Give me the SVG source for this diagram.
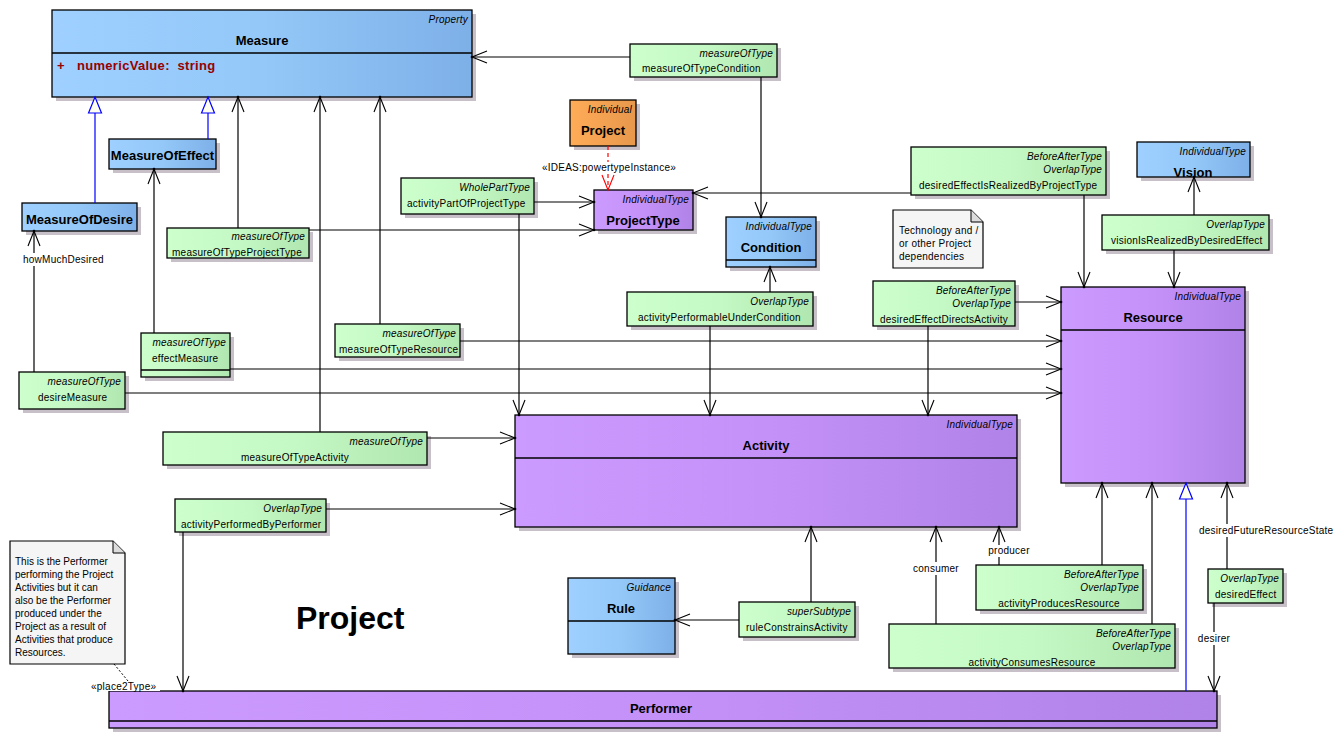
<svg xmlns="http://www.w3.org/2000/svg" width="1337" height="739" viewBox="0 0 1337 739">
<style>
text{font-family:"Liberation Sans",Arial,sans-serif;fill:#000}
.st{font-size:10px;font-style:italic;text-anchor:end;letter-spacing:0.2px}
.nm{font-size:13px;font-weight:bold;text-anchor:middle}
.tx{font-size:10px;letter-spacing:0.25px}
.tc{font-size:10px;text-anchor:middle;letter-spacing:0.25px}
.nt{font-size:10px}
.at{font-size:13px;font-weight:bold;fill:#990000}
.box{stroke:#000;stroke-width:1.3}
.sh{fill:#c8c0c8}
.dv{stroke:#000;stroke-width:1.3}
.ln{stroke:#000;stroke-width:1.2;fill:none;marker-end:url(#arr)}
.gen{stroke:#0000ff;stroke-width:1.2;fill:none;marker-end:url(#tri)}
.note{fill:#f5f5f5;stroke:#000;stroke-width:1.2}
.lbg{fill:#fff}
</style>
<defs>
<linearGradient id="gB" x1="0" x2="1" y1="0" y2="0"><stop offset="0" stop-color="#9fd0ff"/><stop offset="0.5" stop-color="#93c8f8"/><stop offset="1" stop-color="#7eb0e8"/></linearGradient>
<linearGradient id="gG" x1="0" x2="1" y1="0" y2="0"><stop offset="0" stop-color="#ccffcc"/><stop offset="0.5" stop-color="#c4f8c4"/><stop offset="1" stop-color="#b0e6b0"/></linearGradient>
<linearGradient id="gP" x1="0" x2="1" y1="0" y2="0"><stop offset="0" stop-color="#cc9bff"/><stop offset="0.5" stop-color="#c491f8"/><stop offset="1" stop-color="#b083e8"/></linearGradient>
<linearGradient id="gO" x1="0" x2="1" y1="0" y2="0"><stop offset="0" stop-color="#ffac58"/><stop offset="1" stop-color="#e8984c"/></linearGradient>
<marker id="arr" markerUnits="userSpaceOnUse" markerWidth="20" markerHeight="16" viewBox="-17 -8 20 16" refX="0" refY="0" orient="auto" overflow="visible">
<path d="M-15,-6 L0,0 L-15,6" fill="none" stroke="#000" stroke-width="1.1"/><circle cx="0" cy="0" r="1.3" fill="#000"/>
</marker>
<marker id="arrR" markerUnits="userSpaceOnUse" markerWidth="20" markerHeight="16" viewBox="-17 -8 20 16" refX="0" refY="0" orient="auto" overflow="visible">
<path d="M-15,-6 L0,0 L-15,6" fill="none" stroke="#ff0000" stroke-width="1.1"/>
</marker>
<marker id="tri" markerUnits="userSpaceOnUse" markerWidth="20" markerHeight="16" viewBox="-17 -8 20 16" refX="0" refY="0" orient="auto" overflow="visible">
<path d="M-16,-6.5 L0,0 L-16,6.5 Z" fill="#fffff0" stroke="#0000ff" stroke-width="1.2"/>
</marker>
</defs>
<rect width="1337" height="739" fill="#fff"/>

<g id="Measure">
<rect class="sh" x="56" y="14" width="420" height="87"/>
<rect class="box" x="52" y="10" width="420" height="87" fill="url(#gB)"/>
<line class="dv" x1="52" y1="53" x2="472" y2="53"/>
<text class="st" x="468" y="23">Property</text>
<text class="nm" x="262" y="45">Measure</text>
<text class="at" x="57" y="70">+</text>
<text class="at" x="77" y="70" style="letter-spacing:0.3px;white-space:pre" xml:space="preserve">numericValue:  string</text>
</g>

<g id="MeasureOfEffect">
<rect class="sh" x="113" y="143" width="107" height="30"/>
<rect class="box" x="109" y="139" width="107" height="30" fill="url(#gB)"/>
<text class="nm" x="162.5" y="160">MeasureOfEffect</text>
</g>

<g id="MeasureOfDesire">
<rect class="sh" x="26" y="207" width="115" height="28"/>
<rect class="box" x="22" y="203" width="115" height="28" fill="url(#gB)"/>
<text class="nm" x="79.5" y="224">MeasureOfDesire</text>
</g>

<g id="measureOfTypeProjectType">
<rect class="sh" x="171" y="232" width="142" height="30"/>
<rect class="box" x="167" y="228" width="142" height="30" fill="url(#gG)"/>
<text class="st" x="305" y="240">measureOfType</text>
<text class="tx" x="172" y="256">measureOfTypeProjectType</text>
</g>

<g id="activityPartOfProjectType">
<rect class="sh" x="405" y="182" width="133" height="36"/>
<rect class="box" x="401" y="178" width="133" height="36" fill="url(#gG)"/>
<text class="st" x="530" y="191">WholePartType</text>
<text class="tx" x="407" y="207">activityPartOfProjectType</text>
</g>

<g id="measureOfTypeCondition">
<rect class="sh" x="634" y="48" width="147" height="33"/>
<rect class="box" x="630" y="44" width="147" height="33" fill="url(#gG)"/>
<text class="st" x="773" y="57">measureOfType</text>
<text class="tx" x="642" y="72">measureOfTypeCondition</text>
</g>

<g id="Project">
<rect class="sh" x="574" y="104" width="66" height="46"/>
<rect class="box" x="570" y="100" width="66" height="46" fill="url(#gO)"/>
<text class="st" x="632" y="113">Individual</text>
<text class="nm" x="603" y="135">Project</text>
</g>

<g id="ProjectType">
<rect class="sh" x="598" y="194" width="99" height="40"/>
<rect class="box" x="594" y="190" width="99" height="40" fill="url(#gP)"/>
<text class="st" x="689" y="203">IndividualType</text>
<text class="nm" x="643" y="225">ProjectType</text>
</g>

<g id="Condition">
<rect class="sh" x="730" y="221" width="90" height="50"/>
<rect class="box" x="726" y="217" width="90" height="50" fill="url(#gB)"/>
<line class="dv" x1="726" y1="260" x2="816" y2="260"/>
<text class="st" x="812" y="230">IndividualType</text>
<text class="nm" x="771" y="252">Condition</text>
</g>

<g id="activityPerformableUnderCondition">
<rect class="sh" x="631" y="296" width="186" height="34"/>
<rect class="box" x="627" y="292" width="186" height="34" fill="url(#gG)"/>
<text class="st" x="809" y="305">OverlapType</text>
<text class="tx" x="638" y="321">activityPerformableUnderCondition</text>
</g>

<g id="desiredEffectIsRealizedByProjectType">
<rect class="sh" x="915" y="151" width="195" height="48"/>
<rect class="box" x="911" y="147" width="195" height="48" fill="url(#gG)"/>
<text class="st" x="1102" y="160">BeforeAfterType</text>
<text class="st" x="1102" y="173">OverlapType</text>
<text class="tx" x="919" y="189">desiredEffectIsRealizedByProjectType</text>
</g>

<g id="noteTechnology">
<path class="note" d="M893,210 L971,210 L983,222 L983,268 L893,268 Z"/>
<path d="M971,210 L971,222 L983,222" fill="#dcdcdc" stroke="#000" stroke-width="1"/>
<text class="tx" x="899" y="234">Technology and /</text>
<text class="tx" x="899" y="247">or other Project</text>
<text class="tx" x="899" y="260">dependencies</text>
</g>

<g id="Vision">
<rect class="sh" x="1141" y="146" width="113" height="35"/>
<rect class="box" x="1137" y="142" width="113" height="35" fill="url(#gB)"/>
<text class="st" x="1246" y="155">IndividualType</text>
<text class="nm" x="1193" y="177">Vision</text>
</g>

<g id="visionIsRealizedByDesiredEffect">
<rect class="sh" x="1106" y="219" width="167" height="35"/>
<rect class="box" x="1102" y="215" width="167" height="35" fill="url(#gG)"/>
<text class="st" x="1265" y="228">OverlapType</text>
<text class="tx" x="1111" y="244">visionIsRealizedByDesiredEffect</text>
</g>

<g id="desiredEffectDirectsActivity">
<rect class="sh" x="877" y="285" width="142" height="45"/>
<rect class="box" x="873" y="281" width="142" height="45" fill="url(#gG)"/>
<text class="st" x="1011" y="294">BeforeAfterType</text>
<text class="st" x="1011" y="307">OverlapType</text>
<text class="tx" x="880" y="323">desiredEffectDirectsActivity</text>
</g>

<g id="Resource">
<rect class="sh" x="1065" y="291" width="184" height="196"/>
<rect class="box" x="1061" y="287" width="184" height="196" fill="url(#gP)"/>
<line class="dv" x1="1061" y1="330" x2="1245" y2="330"/>
<text class="st" x="1241" y="300">IndividualType</text>
<text class="nm" x="1153" y="322">Resource</text>
</g>

<g id="measureOfTypeResource">
<rect class="sh" x="339" y="328" width="125" height="33"/>
<rect class="box" x="335" y="324" width="125" height="33" fill="url(#gG)"/>
<text class="st" x="456" y="337">measureOfType</text>
<text class="tx" x="339" y="353">measureOfTypeResource</text>
</g>

<g id="effectMeasure">
<rect class="sh" x="145" y="337" width="89" height="44"/>
<rect class="box" x="141" y="333" width="89" height="44" fill="url(#gG)"/>
<line class="dv" x1="141" y1="370" x2="230" y2="370"/>
<text class="st" x="226" y="346">measureOfType</text>
<text class="tx" x="152" y="362">effectMeasure</text>
</g>

<g id="desireMeasure">
<rect class="sh" x="23" y="376" width="106" height="37"/>
<rect class="box" x="19" y="372" width="106" height="37" fill="url(#gG)"/>
<text class="st" x="121" y="385">measureOfType</text>
<text class="tx" x="38" y="401">desireMeasure</text>
</g>

<g id="measureOfTypeActivity">
<rect class="sh" x="167" y="436" width="264" height="33"/>
<rect class="box" x="163" y="432" width="264" height="33" fill="url(#gG)"/>
<text class="st" x="423" y="445">measureOfType</text>
<text class="tc" x="295" y="461">measureOfTypeActivity</text>
</g>

<g id="activityPerformedByPerformer">
<rect class="sh" x="179" y="503" width="151" height="33"/>
<rect class="box" x="175" y="499" width="151" height="33" fill="url(#gG)"/>
<text class="st" x="322" y="512">OverlapType</text>
<text class="tx" x="181" y="528">activityPerformedByPerformer</text>
</g>

<g id="Activity">
<rect class="sh" x="519" y="419" width="502" height="112"/>
<rect class="box" x="515" y="415" width="502" height="112" fill="url(#gP)"/>
<line class="dv" x1="515" y1="458" x2="1017" y2="458"/>
<text class="st" x="1013" y="428">IndividualType</text>
<text class="nm" x="766" y="450">Activity</text>
</g>

<g id="Rule">
<rect class="sh" x="572" y="582" width="107" height="76"/>
<rect class="box" x="568" y="578" width="107" height="76" fill="url(#gB)"/>
<line class="dv" x1="568" y1="621" x2="675" y2="621"/>
<text class="st" x="671" y="591">Guidance</text>
<text class="nm" x="621" y="613">Rule</text>
</g>

<g id="ruleConstrainsActivity">
<rect class="sh" x="743" y="606" width="116" height="35"/>
<rect class="box" x="739" y="602" width="116" height="35" fill="url(#gG)"/>
<text class="st" x="851" y="615">superSubtype</text>
<text class="tx" x="746" y="631">ruleConstrainsActivity</text>
</g>

<g id="activityProducesResource">
<rect class="sh" x="980" y="569" width="167" height="45"/>
<rect class="box" x="976" y="565" width="167" height="45" fill="url(#gG)"/>
<text class="st" x="1139" y="578">BeforeAfterType</text>
<text class="st" x="1139" y="591">OverlapType</text>
<text class="tc" x="1059" y="607">activityProducesResource</text>
</g>

<g id="activityConsumesResource">
<rect class="sh" x="893" y="628" width="286" height="44"/>
<rect class="box" x="889" y="624" width="286" height="44" fill="url(#gG)"/>
<text class="st" x="1171" y="637">BeforeAfterType</text>
<text class="st" x="1171" y="650">OverlapType</text>
<text class="tc" x="1032" y="666">activityConsumesResource</text>
</g>

<g id="desiredEffect">
<rect class="sh" x="1212" y="573" width="75" height="34"/>
<rect class="box" x="1208" y="569" width="75" height="34" fill="url(#gG)"/>
<text class="st" x="1279" y="582">OverlapType</text>
<text class="tx" x="1215" y="598">desiredEffect</text>
</g>

<g id="Performer">
<rect class="sh" x="113" y="695" width="1108" height="37"/>
<rect class="box" x="109" y="691" width="1108" height="37" fill="url(#gP)"/>
<line class="dv" x1="109" y1="721" x2="1217" y2="721"/>
<text class="nm" x="661" y="713">Performer</text>
</g>

<g id="notePerformer">
<path class="note" d="M10,541 L113,541 L125,553 L125,664 L10,664 Z"/>
<path d="M113,541 L113,553 L125,553" fill="#dcdcdc" stroke="#000" stroke-width="1"/>
<text class="nt" x="15" y="565">This is the Performer</text>
<text class="nt" x="15" y="578">performing the Project</text>
<text class="nt" x="15" y="591">Activities but it can</text>
<text class="nt" x="15" y="604">also be the Performer</text>
<text class="nt" x="15" y="617">produced under the</text>
<text class="nt" x="15" y="630">Project as a result of</text>
<text class="nt" x="15" y="643">Activities that produce</text>
<text class="nt" x="15" y="656">Resources.</text>
</g>

<g id="title">
<text x="296" y="629" style="font-size:32px;font-weight:bold">Project</text>
</g>

<g id="connectors">
<line class="gen" x1="95" y1="203" x2="95" y2="97"/>
<line class="gen" x1="208" y1="139" x2="208" y2="97"/>
<line class="gen" x1="1186" y1="691" x2="1186" y2="483"/>
<line class="ln" x1="630" y1="57" x2="472" y2="57"/>
<line class="ln" x1="761" y1="77" x2="761" y2="217"/>
<line x1="608" y1="146" x2="608" y2="190" stroke="#ff0000" stroke-width="1.2" stroke-dasharray="4,3" marker-end="url(#arrR)"/>
<rect class="lbg" x="542" y="162" width="134" height="11"/>
<text class="tc" x="609" y="171">«IDEAS:powertypeInstance»</text>
<line class="ln" x1="534" y1="202" x2="594" y2="202"/>
<line class="ln" x1="519" y1="214" x2="519" y2="415"/>
<line class="ln" x1="238" y1="228" x2="238" y2="97"/>
<line class="ln" x1="309" y1="230" x2="594" y2="230"/>
<line class="ln" x1="911" y1="193" x2="693" y2="193"/>
<line class="ln" x1="1084" y1="195" x2="1084" y2="287"/>
<line class="ln" x1="1194" y1="215" x2="1194" y2="177"/>
<line class="ln" x1="1174" y1="250" x2="1174" y2="287"/>
<line class="ln" x1="770" y1="292" x2="770" y2="267"/>
<line class="ln" x1="710" y1="326" x2="710" y2="415"/>
<line class="ln" x1="1015" y1="302" x2="1061" y2="302"/>
<line class="ln" x1="928" y1="326" x2="928" y2="415"/>
<line class="ln" x1="380" y1="324" x2="380" y2="97"/>
<line class="ln" x1="460" y1="341" x2="1061" y2="341"/>
<line class="ln" x1="154" y1="333" x2="154" y2="169"/>
<line class="ln" x1="230" y1="369" x2="1061" y2="369"/>
<line x1="34" y1="372" x2="34" y2="266" stroke="#000" stroke-width="1.2"/>
<line class="ln" x1="34" y1="253" x2="34" y2="231"/>
<text class="tx" x="23" y="263">howMuchDesired</text>
<line class="ln" x1="125" y1="393" x2="1061" y2="393"/>
<line class="ln" x1="320" y1="432" x2="320" y2="97"/>
<line class="ln" x1="427" y1="438" x2="515" y2="438"/>
<line class="ln" x1="326" y1="509" x2="515" y2="509"/>
<line class="ln" x1="183" y1="532" x2="183" y2="691"/>
<line class="ln" x1="811" y1="602" x2="811" y2="527"/>
<line class="ln" x1="739" y1="620" x2="675" y2="620"/>
<line x1="936" y1="624" x2="936" y2="575" stroke="#000" stroke-width="1.2"/>
<line class="ln" x1="936" y1="562" x2="936" y2="527"/>
<text class="tc" x="936" y="572">consumer</text>
<line class="ln" x1="1152" y1="624" x2="1152" y2="483"/>
<line x1="999" y1="565" x2="999" y2="557" stroke="#000" stroke-width="1.2"/>
<line class="ln" x1="999" y1="545" x2="999" y2="527"/>
<text class="tc" x="1009" y="554">producer</text>
<line class="ln" x1="1102" y1="565" x2="1102" y2="483"/>
<line x1="1227" y1="569" x2="1227" y2="537" stroke="#000" stroke-width="1.2"/>
<line class="ln" x1="1227" y1="524" x2="1227" y2="483"/>
<text class="tx" x="1199" y="534">desiredFutureResourceState</text>
<line x1="1214" y1="603" x2="1214" y2="632" stroke="#000" stroke-width="1.2"/>
<line class="ln" x1="1214" y1="645" x2="1214" y2="691"/>
<text class="tc" x="1214" y="642">desirer</text>
<line x1="114" y1="664" x2="128" y2="681" stroke="#000" stroke-width="1" stroke-dasharray="2,2"/>
<rect class="lbg" x="90" y="681" width="70" height="10"/>
<text class="tx" x="91" y="690">«place2Type»</text>
</g>
</svg>
